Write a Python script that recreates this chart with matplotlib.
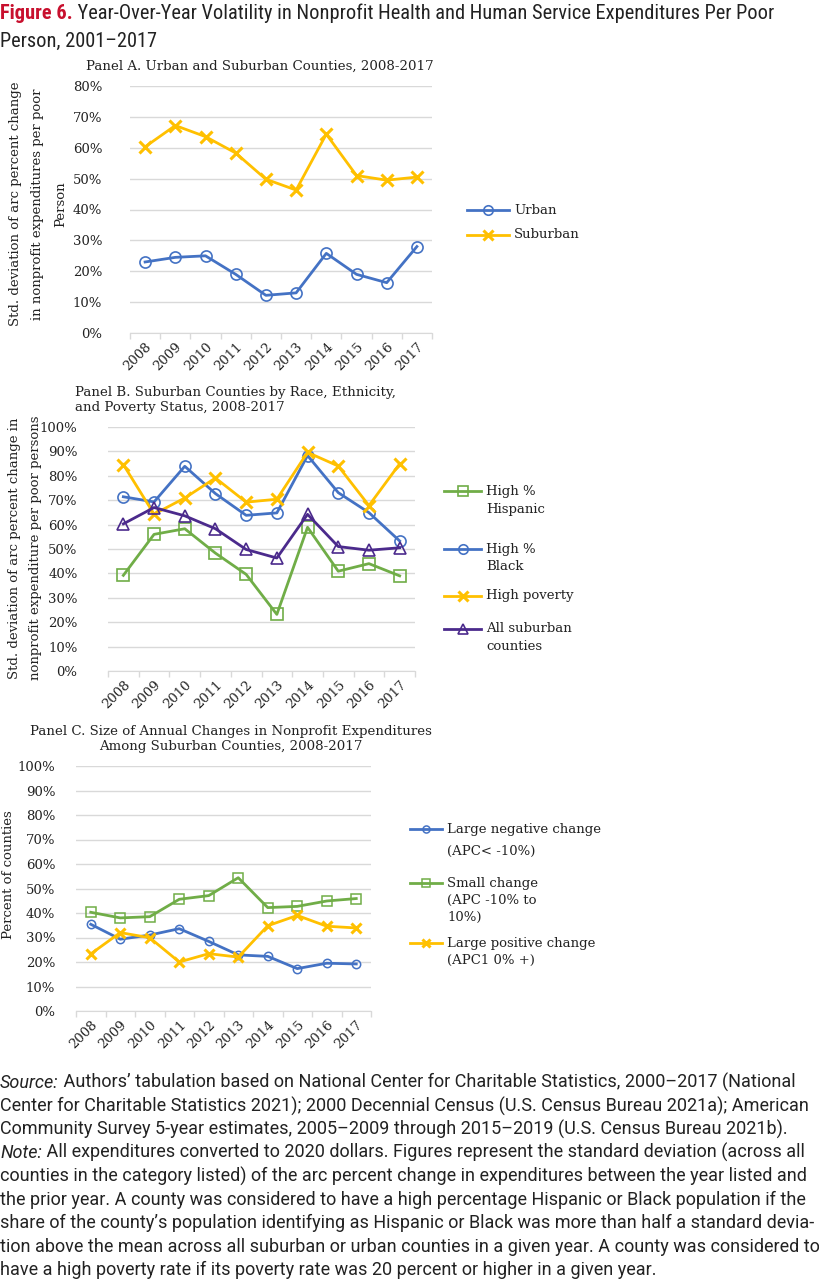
import matplotlib.pyplot as plt
from matplotlib.lines import Line2D
import numpy as np

years = ["2008", "2009", "2010", "2011", "2012", "2013", "2014", "2015", "2016", "2017"]

# Panel A
urban = [23.0, 24.5, 25.0, 19.0, 12.2, 13.0, 25.8, 19.0, 16.3, 28.0]
suburban = [60.3, 67.2, 63.6, 58.3, 49.8, 46.3, 64.4, 51.0, 49.5, 50.5]

# Panel B
high_hispanic = [39.2, 56.0, 58.3, 48.3, 39.6, 23.2, 58.9, 40.9, 44.0, 39.0]
high_black = [71.4, 69.3, 83.9, 72.7, 63.8, 64.8, 88.3, 73.1, 64.9, 53.3]
high_poverty = [84.6, 64.3, 70.9, 79.1, 69.2, 70.4, 89.6, 84.0, 67.8, 84.9]
all_suburban = [60.3, 67.0, 63.6, 58.3, 49.8, 46.3, 64.2, 51.0, 49.5, 50.5]

# Panel C
large_negative = [35.4, 29.3, 31.0, 33.6, 28.4, 22.9, 22.3, 17.3, 19.5, 19.2]
small_change = [40.3, 38.0, 38.5, 45.6, 47.1, 54.4, 42.2, 42.7, 44.9, 45.9]
large_positive = [23.3, 32.0, 29.9, 20.0, 23.4, 22.0, 34.8, 39.0, 34.6, 33.9]

BLUE = "#4472c4"
GOLD = "#ffc000"
GREEN = "#70ad47"
PURPLE = "#4b2a8c"
GRID = "#d9d9d9"
TEXT = "#222222"

SERIF = ["DejaVu Serif"]
NARROW = ["Liberation Sans Narrow", "Roboto Condensed", "Liberation Sans", "DejaVu Sans"]
SANS = ["Roboto", "DejaVu Sans"]

W, H = 819, 1280


def fx(px):
    return px / W


def fy(py):
    return 1 - py / H


def setup_axis(ax, ymax, ypad):
    n = len(years)
    ax.set_xlim(-0.5, n - 0.5)
    ax.set_ylim(0, ymax)
    ticks = np.arange(0, ymax + 1, 10)
    ax.set_yticks(ticks)
    ax.set_yticklabels(["%d%%" % t for t in ticks], family=SERIF, fontsize=9.5, color=TEXT)
    ax.set_xticks(np.arange(n))
    ax.set_xticklabels(years, rotation=45, ha="right", va="top",
                       rotation_mode="anchor", family=SERIF, fontsize=9.5, color=TEXT)
    ax.set_xticks(np.arange(-0.5, n), minor=True)
    ax.tick_params(axis="x", which="major", length=0, pad=5)
    ax.tick_params(axis="x", which="minor", length=4, color=GRID, width=1)
    ax.tick_params(axis="y", length=0, pad=ypad)
    for s in ["top", "right", "left"]:
        ax.spines[s].set_visible(False)
    ax.spines["bottom"].set_color(GRID)
    ax.grid(axis="y", color=GRID, linewidth=1)
    ax.set_axisbelow(True)


def legend_entry(fig, line, x0, x1, y, labels, dy):
    h = Line2D([fx(x0), fx(x1)], [fy(y), fy(y)], transform=fig.transFigure,
               color=line.get_color(), linewidth=line.get_linewidth())
    fig.add_artist(h)
    m = Line2D([fx((x0 + x1) / 2)], [fy(y)], transform=fig.transFigure,
               marker=line.get_marker(), markersize=line.get_markersize() * 0.85,
               markerfacecolor="none", markeredgecolor=line.get_color(),
               markeredgewidth=line.get_markeredgewidth(), linestyle="none")
    fig.add_artist(m)
    for i, lab in enumerate(labels):
        fig.text(fx(x1 + 5), fy(y + i * dy), lab, family=SERIF, fontsize=9.5,
                 color=TEXT, va="center", ha="left")


def rich_line(fig, r, x, y, parts, size, family):
    # parts: list of (text, style, weight, color)
    for txt, style, weight, col in parts:
        t = fig.text(fx(x), fy(y), txt, family=family, fontsize=size, style=style,
                     weight=weight, color=col, va="baseline", ha="left")
        bb = t.get_window_extent(renderer=r)
        x = bb.x1


def main():
    fig = plt.figure(figsize=(8.19, 12.8), dpi=100)
    fig.patch.set_facecolor("white")
    r = fig.canvas.get_renderer()
    x = np.arange(len(years))

    # ---- Panel A
    axA = fig.add_axes([fx(130), fy(333), fx(432 - 130), (333 - 86) / H])
    setup_axis(axA, 80, 20)
    lu, = axA.plot(x, urban, color=BLUE, linewidth=2, marker="o", markersize=8,
                   markerfacecolor="none", markeredgewidth=1.2)
    ls, = axA.plot(x, suburban, color=GOLD, linewidth=2, marker="x", markersize=8,
                   markeredgewidth=2.2)
    fig.text(fx(260), fy(66), "Panel A. Urban and Suburban Counties, 2008-2017",
             family=SERIF, fontsize=9.6, color=TEXT, ha="center", va="center")
    fig.text(fx(38), fy(204),
             "Std. deviation of arc percent change\nin nonprofit expenditures per poor\nPerson",
             family=SERIF, fontsize=9.5, color=TEXT, rotation=90, ha="center",
             va="center", multialignment="center", linespacing=1.95)
    legend_entry(fig, lu, 467, 509, 210, ["Urban"], 18)
    legend_entry(fig, ls, 467, 509, 235, ["Suburban"], 18)

    # ---- Panel B
    axB = fig.add_axes([fx(108), fy(671), fx(415 - 108), (671 - 427) / H])
    setup_axis(axB, 100, 22)
    lh, = axB.plot(x, high_hispanic, color=GREEN, linewidth=2, marker="s", markersize=8,
                   markerfacecolor="none", markeredgewidth=1.2)
    lb, = axB.plot(x, high_black, color=BLUE, linewidth=2, marker="o", markersize=8,
                   markerfacecolor="none", markeredgewidth=1.2)
    lp, = axB.plot(x, high_poverty, color=GOLD, linewidth=2, marker="x", markersize=8,
                   markeredgewidth=2.2)
    la, = axB.plot(x, all_suburban, color=PURPLE, linewidth=2, marker="^", markersize=8,
                   markerfacecolor="none", markeredgewidth=1.2)
    fig.text(fx(75), fy(400), "Panel B. Suburban Counties by Race, Ethnicity,\nand Poverty Status, 2008-2017",
             family=SERIF, fontsize=9.6, color=TEXT, ha="left", va="center", linespacing=1.2)
    fig.text(fx(25), fy(548),
             "Std. deviation of arc percent change in\nnonprofit expenditure per poor persons",
             family=SERIF, fontsize=9.5, color=TEXT, rotation=90, ha="center",
             va="center", multialignment="center", linespacing=1.75)
    legend_entry(fig, lh, 444, 481, 491, ["High %", "Hispanic"], 18)
    legend_entry(fig, lb, 444, 481, 549, ["High %", "Black"], 18)
    legend_entry(fig, lp, 444, 481, 596, ["High poverty"], 18)
    legend_entry(fig, la, 444, 481, 629, ["All suburban", "counties"], 18)

    # ---- Panel C
    axC = fig.add_axes([fx(76), fy(1011), fx(371 - 76), (1011 - 766) / H])
    setup_axis(axC, 100, 15)
    ln, = axC.plot(x, large_negative, color=BLUE, linewidth=2, marker="o", markersize=6,
                   markerfacecolor="none", markeredgewidth=1.1)
    lsm, = axC.plot(x, small_change, color=GREEN, linewidth=2, marker="s", markersize=7,
                    markerfacecolor="none", markeredgewidth=1.1)
    lpo, = axC.plot(x, large_positive, color=GOLD, linewidth=2, marker="x", markersize=7,
                    markeredgewidth=2.2)
    fig.text(fx(231), fy(739), "Panel C. Size of Annual Changes in Nonprofit Expenditures\nAmong Suburban Counties, 2008-2017",
             family=SERIF, fontsize=9.6, color=TEXT, ha="center", va="center",
             multialignment="center", linespacing=1.2)
    fig.text(fx(9), fy(875), "Percent of counties", family=SERIF, fontsize=9.5,
             color=TEXT, rotation=90, ha="center", va="center")
    legend_entry(fig, ln, 410, 442, 829, ["Large negative change"], 18)
    fig.text(fx(447), fy(851), "(APC< -10%)", family=SERIF, fontsize=9.5, color=TEXT,
             va="center", ha="left")
    legend_entry(fig, lsm, 410, 442, 883, ["Small change", "(APC -10% to", "10%)"], 17)
    legend_entry(fig, lpo, 410, 442, 943, ["Large positive change", "(APC1 0% +)"], 17)

    # ---- Title
    red = "#c8102e"
    rich_line(fig, r, 0, 19, [("Figure 6.", "normal", "bold", red),
                              (" Year-Over-Year Volatility in Nonprofit Health and Human Service Expenditures Per Poor",
                               "normal", "normal", TEXT)], 14.7, NARROW)
    rich_line(fig, r, 0, 47, [("Person, 2001\u20132017", "normal", "normal", TEXT)], 14.7, NARROW)

    # ---- Notes
    notes = [
        [("Source:", "italic"), (" Authors\u2019 tabulation based on National Center for Charitable Statistics, 2000\u20132017 (National", "normal")],
        [("Center for Charitable Statistics 2021); 2000 Decennial Census (U.S. Census Bureau 2021a); American", "normal")],
        [("Community Survey 5-year estimates, 2005\u20132009 through 2015\u20132019 (U.S. Census Bureau 2021b).", "normal")],
        [("Note:", "italic"), (" All expenditures converted to 2020 dollars. Figures represent the standard deviation (across all", "normal")],
        [("counties in the category listed) of the arc percent change in expenditures between the year listed and", "normal")],
        [("the prior year. A county was considered to have a high percentage Hispanic or Black population if the", "normal")],
        [("share of the county\u2019s population identifying as Hispanic or Black was more than half a standard devia-", "normal")],
        [("tion above the mean across all suburban or urban counties in a given year. A county was considered to", "normal")],
        [("have a high poverty rate if its poverty rate was 20 percent or higher in a given year.", "normal")],
    ]
    y0 = 1088
    for i, line in enumerate(notes):
        rich_line(fig, r, 0, y0 + i * 23.4,
                  [(t, s, "normal", TEXT) for t, s in line], 13, SANS)

    plt.savefig("out.png", dpi=100, facecolor="white")


if __name__ == "__main__":
    main()
